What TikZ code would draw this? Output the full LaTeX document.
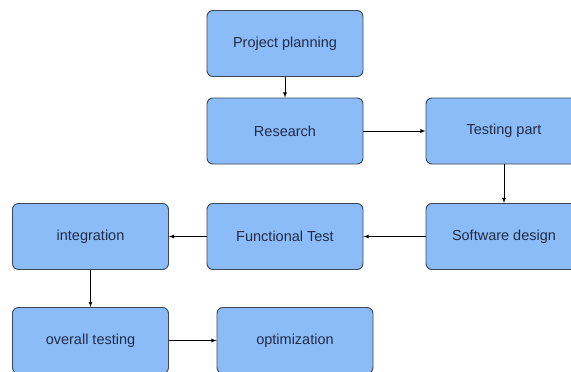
\documentclass[tikz,border=0pt]{standalone}
\usepackage{fontspec}
\setmainfont{Liberation Sans}
\usepackage{tikz}
\usetikzlibrary{positioning}
\definecolor{boxfill}{RGB}{140,188,248}
\definecolor{boxline}{RGB}{60,70,85}
\definecolor{boxtext}{RGB}{32,44,70}

\begin{document}
\begin{tikzpicture}[>=latex,shorten >=0pt,on grid,
    block/.style={draw=boxline,line width=0.9pt,fill=boxfill,rounded corners=6pt,
      minimum width=156pt,minimum height=66pt,text=boxtext,
      font=\fontsize{14.5}{16}\selectfont}]
    \clip (0,0) rectangle (571pt,-372pt);
    \node[block] (plan) at (285pt,-43.5pt) {Project planning};
    \node[block] (research) [below = 87.5pt of plan] {Research};
    \node[block] (testpart) [right = 219pt of research] {Testing part};
    \node[block] (design) [below = 105.5pt of testpart] {Software design};
    \node[block] (functest) [left = 219pt of design] {Functional Test};
    \node[block] (integ) [left = 194.5pt of functest] {integration};
    \node[block] (overall) [below = 104pt of integ] {overall testing};
    \node[block] (optim) [right = 204.5pt of overall] {optimization};
    \path[->,line width=0.8pt]
    (plan) edge (research)
    (research) edge (testpart)
    (testpart) edge (design)
    (design) edge (functest)
    (functest) edge (integ)
    (integ) edge (overall)
    (overall) edge (optim)
    ;
  \end{tikzpicture}
\end{document}
